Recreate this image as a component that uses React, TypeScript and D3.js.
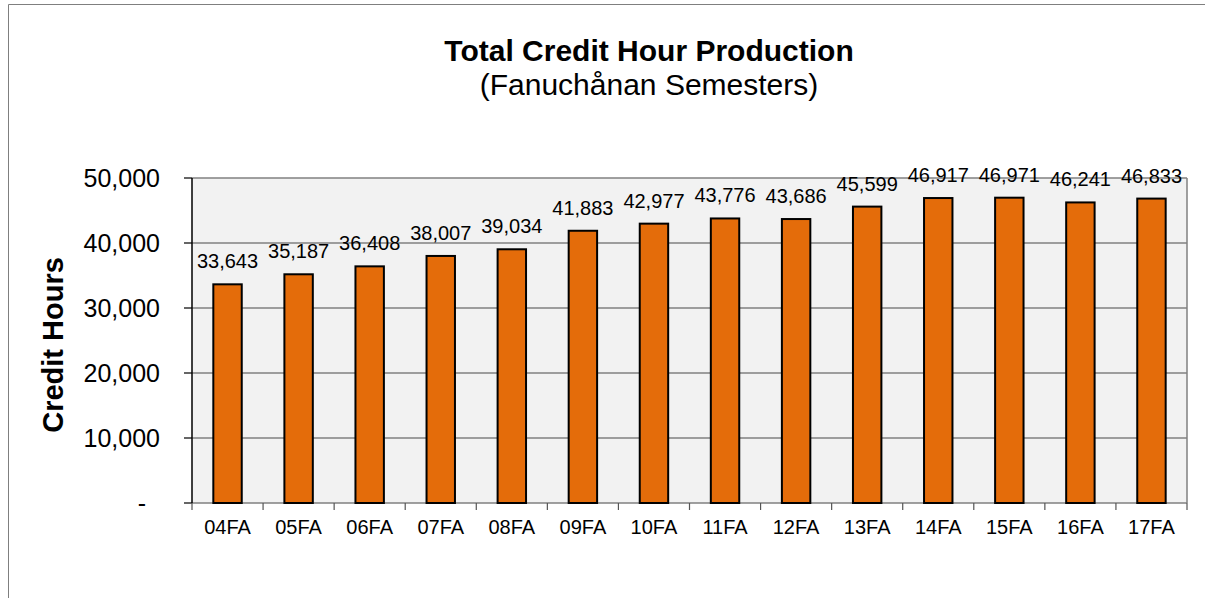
import React from "react";
import * as d3 from "d3";

const categories = ["04FA","05FA","06FA","07FA","08FA","09FA","10FA","11FA","12FA","13FA","14FA","15FA","16FA","17FA"];
const creditHours = [33643,35187,36408,38007,39034,41883,42977,43776,43686,45599,46917,46971,46241,46833];
const yTicks = [0,10000,20000,30000,40000,50000];

const W = 1205, H = 598;
const plot = { left: 192, right: 1187, top: 178, bottom: 503 };
const FONT = "'Liberation Sans', Arial, Helvetica, sans-serif";

export default function App() {
  const x = d3.scaleBand<string>().domain(categories).range([plot.left, plot.right]).paddingInner(0.6).paddingOuter(0.3);
  const xb = d3.scaleBand<string>().domain(categories).range([plot.left, plot.right]);
  const y = d3.scaleLinear().domain([0, 50000]).range([plot.bottom, plot.top]);
  const fmt = d3.format(",");
  const yLabel = (v: number) => (v === 0 ? "-" : fmt(v));

  return (
    <svg width={W} height={H} style={{ position: "absolute", left: 0, top: 0, background: "#fff" }} fontFamily={FONT}>
      {/* outer frame */}
      <line x1={8.5} y1={4.5} x2={W} y2={4.5} stroke="#7f7f7f" strokeWidth={1} />
      <line x1={8.5} y1={4.5} x2={8.5} y2={H} stroke="#7f7f7f" strokeWidth={1} />

      {/* title */}
      <text x={649} y={61} textAnchor="middle" fontSize={30} fontWeight="bold" fill="#000">Total Credit Hour Production</text>
      <text x={649} y={95} textAnchor="middle" fontSize={30} fill="#000">(Fanuchånan Semesters)</text>

      {/* plot background */}
      <rect x={plot.left} y={plot.top} width={plot.right - plot.left} height={plot.bottom - plot.top} fill="#f2f2f2" />

      {/* gridlines */}
      {yTicks.map((t) => (
        <line key={"g" + t} x1={plot.left} x2={plot.right} y1={y(t)} y2={y(t)} stroke="#808080" strokeWidth={1.5} />
      ))}
      <line x1={plot.right} x2={plot.right} y1={plot.top} y2={plot.bottom} stroke="#808080" strokeWidth={1.5} />

      {/* y axis */}
      <line x1={plot.left} x2={plot.left} y1={plot.top} y2={plot.bottom} stroke="#000" strokeWidth={1.5} />
      {yTicks.map((t) => (
        <g key={"yt" + t}>
          <line x1={plot.left - 8} x2={plot.left} y1={y(t)} y2={y(t)} stroke="#000" strokeWidth={1.2} />
          <text x={t === 0 ? 146 : 160} y={y(t) + 9} textAnchor="end" fontSize={25} fill="#000">{yLabel(t)}</text>
        </g>
      ))}

      {/* x axis ticks */}
      {categories.map((c) => (
        <line key={"xt" + c} x1={xb(c)!} x2={xb(c)!} y1={plot.bottom} y2={plot.bottom + 7} stroke="#555" strokeWidth={1.2} />
      ))}
      <line x1={plot.right} x2={plot.right} y1={plot.bottom} y2={plot.bottom + 7} stroke="#555" strokeWidth={1.2} />

      {/* bars */}
      {categories.map((c, i) => (
        <rect key={"b" + c} x={x(c)!} y={y(creditHours[i])} width={x.bandwidth()} height={plot.bottom - y(creditHours[i])}
          fill="#e46c0a" stroke="#000" strokeWidth={2} />
      ))}

      {/* data labels */}
      {categories.map((c, i) => (
        <text key={"l" + c} x={x(c)! + x.bandwidth() / 2} y={y(creditHours[i]) - 16} textAnchor="middle" fontSize={20} fill="#000">
          {fmt(creditHours[i])}
        </text>
      ))}

      {/* x labels */}
      {categories.map((c) => (
        <text key={"xl" + c} x={xb(c)! + xb.bandwidth() / 2} y={534} textAnchor="middle" fontSize={20} fill="#000">{c}</text>
      ))}

      {/* y axis title */}
      <text transform={`translate(63,345) rotate(-90)`} textAnchor="middle" fontSize={29} fontWeight="bold" fill="#000">Credit Hours</text>
    </svg>
  );
}
